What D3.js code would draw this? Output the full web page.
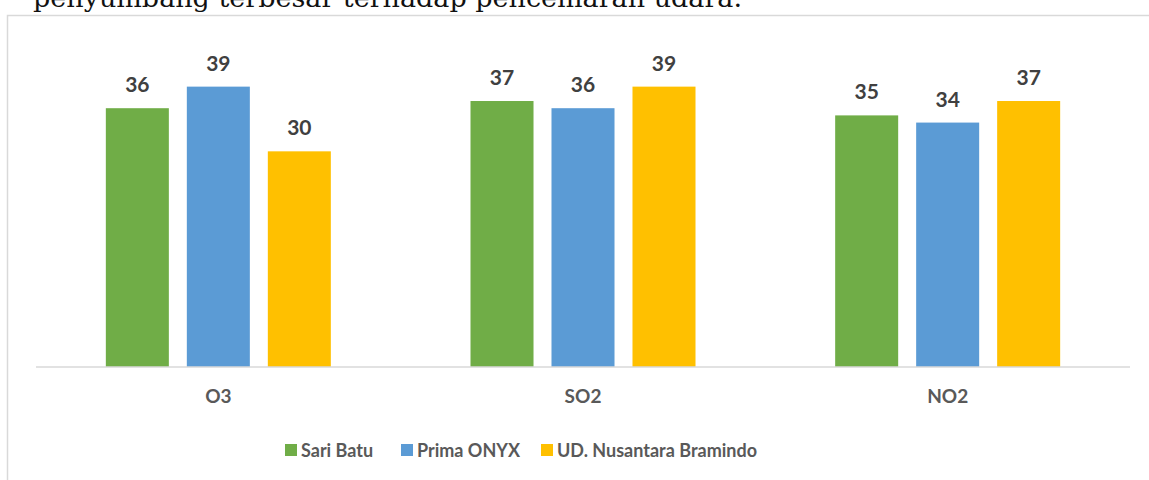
<!DOCTYPE html>
<html>
<head>
<meta charset="utf-8">
<script src="https://cdn.jsdelivr.net/npm/d3@7"></script>
<style>
  body { margin: 0; background: #fff; }
  svg { display: block; }
</style>
</head>
<body>
<div id="chart"></div>
<script>
// chart data
var categories = ["O3", "SO2", "NO2"];
var seriesNames = ["Sari Batu", "Prima ONYX", "UD. Nusantara Bramindo"];
var sariBatu = [36, 37, 35];
var primaOnyx = [39, 36, 34];
var udNusantara = [30, 39, 37];
var seriesValues = [sariBatu, primaOnyx, udNusantara];
var seriesColors = ["#70AD47", "#5B9BD5", "#FFC000"];

var width = 1149, height = 480;

var svg = d3.select("#chart").append("svg")
    .attr("width", width)
    .attr("height", height);

// cut off caption line from the document above the chart
svg.append("text")
    .attr("x", 33)
    .attr("y", 7)
    .attr("textLength", 709)
    .attr("lengthAdjust", "spacingAndGlyphs")
    .style("font-family", "'DejaVu Serif', 'Liberation Serif', serif")
    .style("font-size", "26px")
    .style("fill", "#111")
    .text("penyumbang terbesar terhadap pencemaran udara.");

// chart frame (only top and left edges are visible)
svg.append("path")
    .attr("d", "M7.5," + height + "V15.5H" + width)
    .style("fill", "none")
    .style("stroke", "#d9d9d9")
    .style("stroke-width", 1.5);

// scales
var plotLeft = 36, plotRight = 1130, baseY = 367;
var x0 = d3.scaleBand().domain(categories).range([plotLeft, plotRight]).padding(0);
var clusterW = 225;
var x1 = d3.scaleBand().domain(d3.range(seriesNames.length))
    .range([-clusterW / 2, clusterW / 2])
    .paddingInner(0.222).paddingOuter(0);
var y = d3.scaleLinear().domain([0, 45]).range([baseY, 43.5]);

// bars
var bars = [];
seriesValues.forEach(function (vals, s) {
    vals.forEach(function (v, i) {
        bars.push({ cat: categories[i], s: s, value: v });
    });
});

var barG = svg.append("g");
barG.selectAll("rect")
    .data(bars)
    .enter().append("rect")
    .attr("x", function (d) { return x0(d.cat) + x0.bandwidth() / 2 + x1(d.s); })
    .attr("y", function (d) { return y(d.value); })
    .attr("width", x1.bandwidth())
    .attr("height", function (d) { return baseY - y(d.value); })
    .attr("fill", function (d) { return seriesColors[d.s]; });

// value labels
barG.selectAll(".valLabel")
    .data(bars)
    .enter().append("text")
    .attr("class", "valLabel")
    .attr("x", function (d) { return x0(d.cat) + x0.bandwidth() / 2 + x1(d.s) + x1.bandwidth() / 2; })
    .attr("y", function (d) { return y(d.value) - 16; })
    .attr("text-anchor", "middle")
    .style("font-family", "Lato, 'Open Sans', sans-serif")
    .style("font-weight", "bold")
    .style("font-size", "21px")
    .style("fill", "#404040")
    .text(function (d) { return d.value; });

// x axis
var xAxis = svg.append("g")
    .attr("transform", "translate(0," + baseY + ")")
    .call(d3.axisBottom(x0).tickSize(0).tickPadding(23));
xAxis.select(".domain")
    .attr("d", "M" + plotLeft + ",0H" + plotRight)
    .style("stroke", "#d9d9d9")
    .style("stroke-width", 1.5);
xAxis.selectAll("text")
    .style("font-family", "Lato, 'Open Sans', sans-serif")
    .style("font-weight", "bold")
    .style("font-size", "19px")
    .style("fill", "#595959");

// legend
var legendX = [285, 401, 541];
var legend = svg.append("g");
var items = legend.selectAll("g")
    .data(seriesNames)
    .enter().append("g")
    .attr("transform", function (d, i) { return "translate(" + legendX[i] + ",444)"; });
items.append("rect")
    .attr("width", 12)
    .attr("height", 12)
    .attr("fill", function (d, i) { return seriesColors[i]; });
items.append("text")
    .attr("x", 16)
    .attr("y", 13)
    .style("font-family", "Lato, 'Open Sans', sans-serif")
    .style("font-weight", "bold")
    .style("font-size", "18px")
    .style("fill", "#595959")
    .text(function (d) { return d; });
</script>
</body>
</html>
